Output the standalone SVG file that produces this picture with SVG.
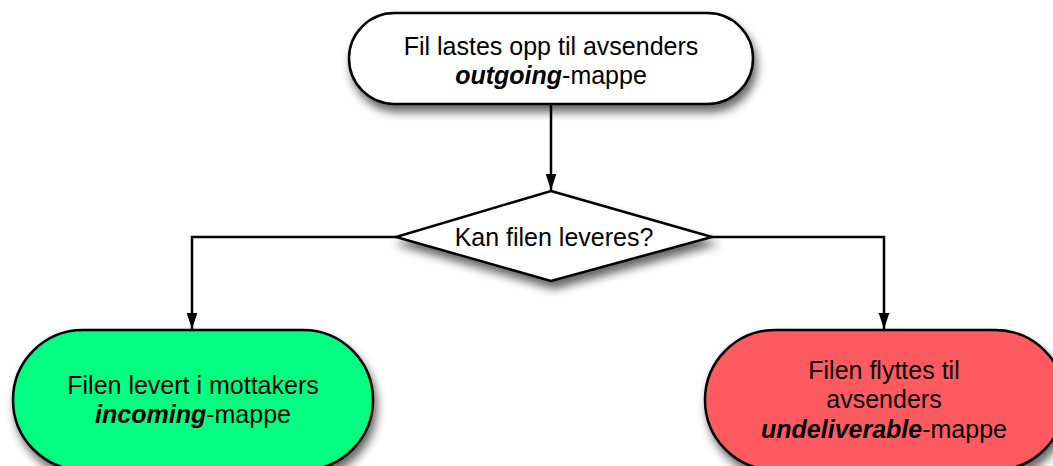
<svg xmlns="http://www.w3.org/2000/svg" width="1053" height="466" viewBox="0 0 1053 466">
<style>
.n{stroke:#000;stroke-width:2.5;filter:url(#sh)}
.t{font-family:"Liberation Sans",Arial,sans-serif;font-size:25px;fill:#000;text-anchor:middle}
.b{font-weight:bold;font-style:italic}
.c{fill:none;stroke:#000;stroke-width:2.5}
</style>
<defs>
<filter id="sh" x="-20%" y="-20%" width="140%" height="150%">
<feDropShadow dx="3" dy="7" stdDeviation="5" flood-color="#000" flood-opacity="0.6"/>
</filter>
<marker id="ah" markerWidth="16" markerHeight="24" refX="24" refY="8" orient="auto" markerUnits="userSpaceOnUse" viewBox="0 0 24 16">
<path d="M0,0 L24,8 L0,16 Z" fill="#000"/>
</marker>
</defs>
<rect width="1053" height="466" fill="#fff"/>
<g id="connectors">
<path class="c" d="M551,104 V190" marker-end="url(#ah)"/>
<path class="c" d="M397,237 H192 V329" marker-end="url(#ah)"/>
<path class="c" d="M711,237 H884 V329" marker-end="url(#ah)"/>
</g>
<g id="start">
<rect class="n" x="349" y="13" width="404" height="91" rx="45.5" fill="#fff"/>
<text class="t" x="551" y="55">Fil lastes opp til avsenders</text>
<text class="t" x="551" y="84"><tspan class="b">outgoing</tspan>-mappe</text>
</g>
<g id="decision">
<polygon class="n" points="551,191 712,237 551,281 396,237" fill="#fff"/>
<text class="t" x="554" y="246">Kan filen leveres?</text>
</g>
<g id="delivered">
<rect class="n" x="13" y="330" width="360" height="140" rx="70" fill="#00FF80"/>
<text class="t" x="193" y="394">Filen levert i mottakers</text>
<text class="t" x="193" y="423"><tspan class="b">incoming</tspan>-mappe</text>
</g>
<g id="undeliverable">
<rect class="n" x="705" y="330" width="360" height="140" rx="70" fill="#FF5A60"/>
<text class="t" x="884" y="379">Filen flyttes til</text>
<text class="t" x="884" y="408">avsenders</text>
<text class="t" x="884" y="438"><tspan class="b">undeliverable</tspan>-mappe</text>
</g>
</svg>
